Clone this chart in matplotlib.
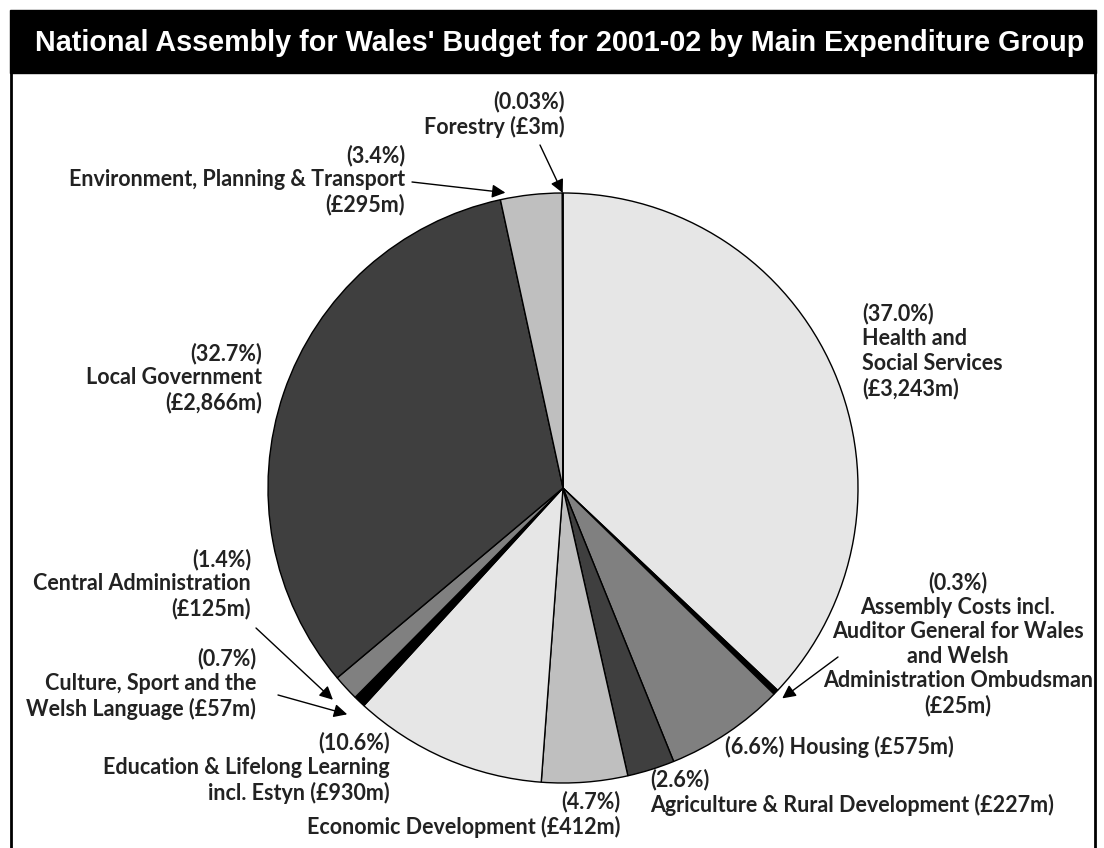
import numpy as np
import matplotlib
matplotlib.use("Agg")
import matplotlib.pyplot as plt
from matplotlib.patches import Rectangle
from matplotlib.lines import Line2D

# Budget 2001-02 by main expenditure group (£m), clockwise from the top
groups = ["Health and Social Services", "Assembly Costs", "Housing",
          "Agriculture & Rural Development", "Economic Development",
          "Education & Lifelong Learning", "Culture, Sport and the Welsh Language",
          "Central Administration", "Local Government",
          "Environment, Planning & Transport", "Forestry"]
amounts = [3243, 25, 575, 227, 412, 930, 57, 125, 2866, 295, 3]
shares = ["37.0%", "0.3%", "6.6%", "2.6%", "4.7%", "10.6%", "0.7%",
          "1.4%", "32.7%", "3.4%", "0.03%"]
colors = ["#e6e6e6", "#000000", "#808080", "#3f3f3f", "#bfbfbf", "#e6e6e6",
          "#000000", "#808080", "#3f3f3f", "#bfbfbf", "#000000"]

W, H = 1104, 848
fig = plt.figure(figsize=(W / 100, H / 100), dpi=100)


def fp(x, y):
    # pixel position (top-left origin) -> figure fraction
    return x / W, 1 - y / H


# frame and title bar
fig.patches.append(Rectangle(fp(10, 73), 1086 / W, 63 / H, transform=fig.transFigure,
                             facecolor="black", edgecolor="black"))
for xx in (11, 1095):
    fig.lines.append(Line2D([xx / W, xx / W], [0, 1 - 72 / H], transform=fig.transFigure,
                            color="black", lw=2))
fig.text(*fp(560, 43), "National Assembly for Wales' Budget for 2001-02 by Main Expenditure Group",
         color="white", fontsize=20.7, fontweight="bold", ha="center", va="center",
         family=["Liberation Sans", "DejaVu Sans"])

# pie
cx, cy, r = 563, 488, 295
ax = fig.add_axes([(cx - r) / W, (H - cy - r) / H, 2 * r / W, 2 * r / H])
wedges, _ = ax.pie(amounts, colors=colors, startangle=90, counterclock=False,
                   wedgeprops=dict(edgecolor="black", linewidth=1), radius=1)
ax.set_xlim(-1, 1)
ax.set_ylim(-1, 1)
ax.set_aspect("equal")
ax.axis("off")

font = dict(family=["Lato", "DejaVu Sans"], fontweight="bold", fontsize=15.5,
            color="#222222", linespacing=1.2)


def label(i, text, x, y, ha):
    fig.text(*fp(x, y), "(" + shares[i] + ")\n" + text,
             ha=ha, va="center", multialignment=ha, **font)


def arrow(i, x, y, rr=1.03, frac=0.5):
    w = wedges[i]
    ang = np.deg2rad(w.theta1 + frac * (w.theta2 - w.theta1))
    ax.annotate("", xy=(rr * np.cos(ang), rr * np.sin(ang)), xycoords="data",
                xytext=fp(x, y), textcoords="figure fraction",
                arrowprops=dict(arrowstyle="-|>", color="black", lw=1,
                                mutation_scale=20, shrinkA=0, shrinkB=0))


label(0, "Health and\nSocial Services\n(£3,243m)", 862, 351, "left")
label(1, "Assembly Costs incl.\nAuditor General for Wales\nand Welsh\nAdministration Ombudsman\n(£25m)",
      958, 644, "center")
arrow(1, 838, 657)
fig.text(*fp(725, 747), "(" + shares[2] + ") Housing (£575m)", ha="left", va="center", **font)
label(3, "Agriculture & Rural Development (£227m)", 650, 792, "left")
label(4, "Economic Development (£412m)", 620, 814, "right")
label(5, "Education & Lifelong Learning\nincl. Estyn (£930m)", 390, 768, "right")
label(6, "Culture, Sport and the\nWelsh Language (£57m)", 256, 684, "right")
arrow(6, 278, 695, rr=1.06)
label(7, "Central Administration\n(£125m)", 251, 584, "right")
arrow(7, 256, 628, rr=1.06)
label(8, "Local Government\n(£2,866m)", 262, 378, "right")
label(9, "Environment, Planning & Transport\n(£295m)", 405, 180, "right")
arrow(9, 412, 182, rr=1.02, frac=0.9)
label(10, "Forestry (£3m)", 565, 114, "right")
arrow(10, 540, 145, rr=1.0)

fig.savefig("out.png", dpi=100)
